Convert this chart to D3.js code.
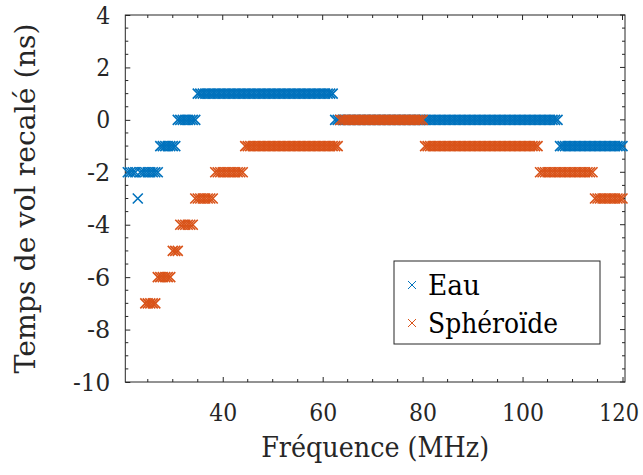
<!DOCTYPE html>
<html><head><meta charset="utf-8">
<script src="https://cdn.jsdelivr.net/npm/d3@7"></script>
<style>html,body{margin:0;padding:0;background:#fff;}svg{display:block;}</style>
</head><body>
<svg id="chart" width="643" height="475"></svg>
<script>
// Frequencies (MHz), 0.5 MHz sampling
const frequencies = [
  21,21.5,22,22.5,23,23.5,24,24.5,25,25.5,
  26,26.5,27,27.5,28,28.5,29,29.5,30,30.5,
  31,31.5,32,32.5,33,33.5,34,34.5,35,35.5,
  36,36.5,37,37.5,38,38.5,39,39.5,40,40.5,
  41,41.5,42,42.5,43,43.5,44,44.5,45,45.5,
  46,46.5,47,47.5,48,48.5,49,49.5,50,50.5,
  51,51.5,52,52.5,53,53.5,54,54.5,55,55.5,
  56,56.5,57,57.5,58,58.5,59,59.5,60,60.5,
  61,61.5,62,62.5,63,63.5,64,64.5,65,65.5,
  66,66.5,67,67.5,68,68.5,69,69.5,70,70.5,
  71,71.5,72,72.5,73,73.5,74,74.5,75,75.5,
  76,76.5,77,77.5,78,78.5,79,79.5,80,80.5,
  81,81.5,82,82.5,83,83.5,84,84.5,85,85.5,
  86,86.5,87,87.5,88,88.5,89,89.5,90,90.5,
  91,91.5,92,92.5,93,93.5,94,94.5,95,95.5,
  96,96.5,97,97.5,98,98.5,99,99.5,100,100.5,
  101,101.5,102,102.5,103,103.5,104,104.5,105,105.5,
  106,106.5,107,107.5,108,108.5,109,109.5,110,110.5,
  111,111.5,112,112.5,113,113.5,114,114.5,115,115.5,
  116,116.5,117,117.5,118,118.5,119,119.5,120
];
// Recalibrated time of flight (ns) - Eau
const eau = [
  -2,-2,-2,-2,-3,-2,-2,-2,-2,-2,
  -2,-2,-2,-1,-1,-1,-1,-1,-1,-1,
  0,0,0,0,0,0,0,0,1,1,
  1,1,1,1,1,1,1,1,1,1,
  1,1,1,1,1,1,1,1,1,1,
  1,1,1,1,1,1,1,1,1,1,
  1,1,1,1,1,1,1,1,1,1,
  1,1,1,1,1,1,1,1,1,1,
  1,1,1,0,0,0,0,0,0,0,
  0,0,0,0,0,0,0,0,0,0,
  0,0,0,0,0,0,0,0,0,0,
  0,0,0,0,0,0,0,0,0,0,
  0,0,0,0,0,0,0,0,0,0,
  0,0,0,0,0,0,0,0,0,0,
  0,0,0,0,0,0,0,0,0,0,
  0,0,0,0,0,0,0,0,0,0,
  0,0,0,0,0,0,0,0,0,0,
  0,0,0,-1,-1,-1,-1,-1,-1,-1,
  -1,-1,-1,-1,-1,-1,-1,-1,-1,-1,
  -1,-1,-1,-1,-1,-1,-1,-1,-1
];
// Recalibrated time of flight (ns) - Sphéroïde (null = outside the axes)
const spheroide = [
  null,null,null,null,null,null,null,-7,-7,-7,
  -7,-7,-6,-6,-6,-6,-6,-6,-5,-5,
  -5,-4,-4,-4,-4,-4,-4,-3,-3,-3,
  -3,-3,-3,-3,-3,-2,-2,-2,-2,-2,
  -2,-2,-2,-2,-2,-2,-2,-1,-1,-1,
  -1,-1,-1,-1,-1,-1,-1,-1,-1,-1,
  -1,-1,-1,-1,-1,-1,-1,-1,-1,-1,
  -1,-1,-1,-1,-1,-1,-1,-1,-1,-1,
  -1,-1,-1,-1,-1,0,0,0,0,0,
  0,0,0,0,0,0,0,0,0,0,
  0,0,0,0,0,0,0,0,0,0,
  0,0,0,0,0,0,0,0,0,-1,
  -1,-1,-1,-1,-1,-1,-1,-1,-1,-1,
  -1,-1,-1,-1,-1,-1,-1,-1,-1,-1,
  -1,-1,-1,-1,-1,-1,-1,-1,-1,-1,
  -1,-1,-1,-1,-1,-1,-1,-1,-1,-1,
  -1,-1,-1,-1,-1,-2,-2,-2,-2,-2,
  -2,-2,-2,-2,-2,-2,-2,-2,-2,-2,
  -2,-2,-2,-2,-2,-2,-2,-3,-3,-3,
  -3,-3,-3,-3,-3,-3,-3,-3,-3
];
const seriesNames = ["Eau", "Sphéroïde"];
const seriesColors = ["#0072BD", "#D95319"];
const xTicks = [40, 60, 80, 100, 120];
const yTicks = [-10, -8, -6, -4, -2, 0, 2, 4];
const xLabel = "Fréquence (MHz)";
const yLabel = "Temps de vol recalé (ns)";

const svg = d3.select("#chart");
const L = 125.3, R = 625, T = 15, B = 382;
const font = "'DejaVu Serif', 'Liberation Serif', 'Noto Serif', serif";
const x = d3.scaleLinear().domain([20.5, 120.5]).range([L, R]);
const y = d3.scaleLinear().domain([-10, 4]).range([B, T]);
const axisColor = "#262626";

// frame
svg.append("rect").attr("x", L).attr("y", T).attr("width", R - L).attr("height", B - T)
  .attr("fill", "none").attr("stroke", axisColor).attr("stroke-width", 1);

// minor ticks
const xMinor = d3.range(25, 121, 5).filter(v => !xTicks.includes(v));
const yMinor = d3.range(-10, 4.01, 0.5).filter(v => !yTicks.includes(v));
const tk = svg.append("g").attr("stroke", axisColor).attr("stroke-width", 1);
xMinor.forEach(v => {
  tk.append("line").attr("x1", x(v)).attr("x2", x(v)).attr("y1", B).attr("y2", B - 3);
  tk.append("line").attr("x1", x(v)).attr("x2", x(v)).attr("y1", T).attr("y2", T + 3);
});
yMinor.forEach(v => {
  tk.append("line").attr("x1", L).attr("x2", L + 3).attr("y1", y(v)).attr("y2", y(v));
  tk.append("line").attr("x1", R).attr("x2", R - 3).attr("y1", y(v)).attr("y2", y(v));
});
xTicks.forEach(v => tk.append("line").attr("x1", x(v)).attr("x2", x(v)).attr("y1", T).attr("y2", T + 5));
yTicks.forEach(v => tk.append("line").attr("x1", R).attr("x2", R - 5).attr("y1", y(v)).attr("y2", y(v)));

// axes with labels
const fmt = d => d < 0 ? "-" + Math.abs(d) : String(d);
const labelWidth = s => s.split("").reduce((w, c) => w + (c === "-" ? 9.3 : 14), 0);
const gx = svg.append("g").attr("transform", `translate(0,${B})`)
  .call(d3.axisBottom(x).tickValues(xTicks).tickFormat(fmt).tickSizeInner(-5).tickSizeOuter(0).tickPadding(21));
const gy = svg.append("g").attr("transform", `translate(${L},0)`)
  .call(d3.axisLeft(y).tickValues(yTicks).tickFormat(fmt).tickSizeInner(-5).tickSizeOuter(0).tickPadding(15));
[gx, gy].forEach(g => {
  g.attr("font-family", font).attr("font-size", 25);
  g.select(".domain").remove();
  g.selectAll(".tick line").attr("stroke", axisColor);
  g.selectAll(".tick text").attr("fill", axisColor)
    .attr("textLength", d => labelWidth(fmt(d))).attr("lengthAdjust", "spacingAndGlyphs");
});
gx.selectAll(".tick text").filter(d => d === 120).attr("dx", -4).attr("textLength", 40);

// axis titles
svg.append("text").attr("x", (L + R) / 2).attr("y", 457).attr("text-anchor", "middle")
  .attr("font-family", font).attr("font-size", 27).attr("fill", axisColor)
  .attr("textLength", 228).attr("lengthAdjust", "spacingAndGlyphs").text(xLabel);
svg.append("text").attr("transform", `translate(35,${(T + B) / 2}) rotate(-90)`).attr("text-anchor", "middle")
  .attr("font-family", font).attr("font-size", 27).attr("fill", axisColor)
  .attr("textLength", 350).attr("lengthAdjust", "spacingAndGlyphs").text(yLabel);

// markers
const crossPath = s => `M${-s},${-s}L${s},${s}M${-s},${s}L${s},${-s}`;
const seriesData = [eau, spheroide];
seriesData.forEach((vals, si) => {
  const pts = frequencies.map((f, i) => ({ f, v: vals[i] })).filter(d => d.v !== null);
  svg.append("g").selectAll("path").data(pts).join("path")
    .attr("transform", d => `translate(${x(d.f)},${y(d.v)})`)
    .attr("d", crossPath(5))
    .attr("fill", "none").attr("stroke", seriesColors[si]).attr("stroke-width", 1.6);
});

// legend
const lg = svg.append("g");
lg.append("rect").attr("x", 394).attr("y", 261).attr("width", 206).attr("height", 83)
  .attr("fill", "#fff").attr("stroke", axisColor).attr("stroke-width", 1);
const legendW = [52, 130];
seriesNames.forEach((name, i) => {
  const cy = 285 + i * 38;
  lg.append("path").attr("transform", `translate(412,${cy})`).attr("d", crossPath(4))
    .attr("fill", "none").attr("stroke", seriesColors[i]).attr("stroke-width", 1);
  lg.append("text").attr("x", 428).attr("y", cy + 10).attr("font-family", font).attr("font-size", 27)
    .attr("fill", "#000").attr("textLength", legendW[i]).attr("lengthAdjust", "spacingAndGlyphs").text(name);
});
</script>
</body></html>
